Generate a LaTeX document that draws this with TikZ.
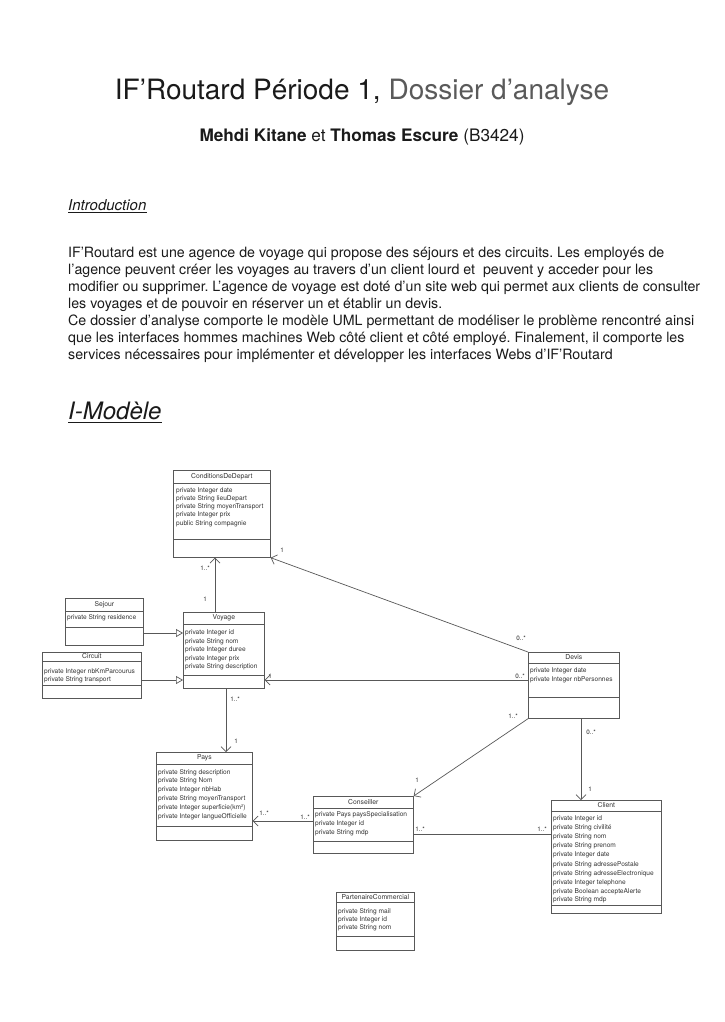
\documentclass[tikz,border=0pt]{standalone}
\usepackage{fontspec}
\setmainfont{TeX Gyre Heros}
\usetikzlibrary{arrows.meta,calc}

\definecolor{txt}{HTML}{1A1A1A}
\definecolor{umltext}{HTML}{333333}
\definecolor{umlline}{HTML}{585858}

\tikzset{
  cls/.style={draw=umlline, line width=0.7pt, fill=white, inner sep=0pt, anchor=north west},
  ctitle/.style={font=\fontsize{6.8}{7}\selectfont, text=umltext, inner sep=0pt, anchor=center},
  cattr/.style={font=\fontsize{6.6}{#1}\selectfont, text=umltext, inner sep=0pt, anchor=north west, align=left},
  cattr/.default=8.4,
  csep/.style={draw=umlline, line width=0.7pt},
  assoc/.style={draw=umlline, line width=0.7pt, -{Straight Barb[length=5pt,width=10pt]}},
  plainassoc/.style={draw=umlline, line width=0.7pt},
  inherit/.style={draw=umlline, line width=0.7pt, -{Triangle[open,length=7pt,width=8pt,fill=white]}},
  mult/.style={font=\fontsize{6.3}{7}\selectfont, text=umltext, inner sep=0pt},
  para/.style={font=\fontsize{14.2}{17}\selectfont\frenchspacing, text=txt, inner sep=0pt, anchor=base west},
}

% #1 name, #2 left, #3 top, #4 right, #5 bottom, #6 first separator, #7 second separator, #8 class name
\newcommand{\umlclass}[8]{%
  \node[cls, minimum width={(#4-#2)*1pt}, minimum height={(#5-#3)*1pt}] (#1) at (#2,#3) {};
  \draw[csep] (#1.west |- 0,#6) -- (#1.east |- 0,#6);
  \draw[csep] (#1.west |- 0,#7) -- (#1.east |- 0,#7);
  \node[ctitle] (#1-title) at ($(#1.north)!0.5!(#1.north |- 0,#6)$) {#8};
}

\begin{document}
\begin{tikzpicture}[x=1pt,y=-1pt]
\useasboundingbox[fill=white] (0,0) rectangle (724,1022);

% Heading
\node[anchor=base, inner sep=0pt, font=\fontsize{28}{30}\selectfont, text=txt] (title) at (362,100)
  {IF’Routard Période 1, {\color{txt!72}Dossier d’analyse}};
\node[anchor=base, inner sep=0pt, font=\fontsize{17.2}{19}\selectfont, text=txt] (authors) at (362,142)
  {\textbf{Mehdi Kitane} et \textbf{Thomas Escure} (B3424)};

% Introduction
\node[anchor=base west, inner sep=0pt, font=\fontsize{15}{17}\selectfont\itshape, text=txt] (intro) at (68,210) {Introduction};
\draw[txt, line width=0.7pt] ($(intro.base west)+(0,2.2)$) -- ($(intro.base east)+(0,2.2)$);

\node[para] (p1) at (68,257) {IF'Routard est une agence de voyage qui propose des séjours et des circuits. Les employés de};
\node[para] (p2) at (68,274) {l'agence peuvent créer les voyages au travers d'un client lourd et\ \ peuvent y acceder pour les};
\node[para] (p3) at (68,291) {modifier ou supprimer. L'agence de voyage est doté d'un site web qui permet aux clients de consulter};
\node[para] (p4) at (68,308) {les voyages et de pouvoir en réserver un et établir un devis.};
\node[para] (p5) at (68,325) {Ce dossier d'analyse comporte le modèle UML permettant de modéliser le problème rencontré ainsi};
\node[para] (p6) at (68,342) {que les interfaces hommes machines Web côté client et côté employé. Finalement, il comporte les};
\node[para] (p7) at (68,359) {services nécessaires pour implémenter et développer les interfaces Webs d'IF'Routard};

% Section heading
\node[anchor=base west, inner sep=0pt, font=\fontsize{24}{26}\selectfont\itshape, text=txt] (modele) at (68,419) {I-Modèle};
\draw[txt, line width=1pt] ($(modele.base west)+(0,3.5)$) -- ($(modele.base east)+(0,3.5)$);

% Classes
\umlclass{cond}{173}{470}{270}{557}{483}{539}{ConditionsDeDepart}
\node[cattr=8.3] (cond-attr) at (176,487) {private Integer date\\private String lieuDepart\\private String moyenTransport\\private Integer prix\\public String compagnie};

\umlclass{sejour}{65}{598}{143}{645}{611}{627}{Sejour}
\node[cattr] (sejour-attr) at (67,614.5) {private String residence};

\umlclass{voyage}{183}{612}{264}{688}{624}{675}{Voyage}
\node[cattr=8.6] (voyage-attr) at (185,629.5) {private Integer id\\private String nom\\private Integer duree\\private Integer prix\\private String description};

\umlclass{circuit}{42}{652}{141}{698}{661}{685}{Circuit}
\node[cattr=8.4] (circuit-attr) at (44,668.5) {private Integer nbKmParcourus\\private String transport};

\umlclass{devis}{528}{652}{619}{718}{663}{697}{Devis}
\node[cattr=9] (devis-attr) at (530,667.5) {private Integer date\\private Integer nbPersonnes};

\umlclass{pays}{156}{752}{252}{840}{764}{826}{Pays}
\node[cattr=8.8] (pays-attr) at (158,769) {private String description\\private String Nom\\private Integer nbHab\\private String moyenTransport\\private Integer superficie(km²)\\private Integer langueOfficielle};

\umlclass{conseiller}{313}{796}{413}{853}{808}{841}{Conseiller}
\node[cattr=9] (conseiller-attr) at (315,811.5) {private Pays paysSpecialisation\\private Integer id\\private String mdp};

\umlclass{client}{551}{800}{661}{913}{811}{905}{Client}
\node[cattr=9.1] (client-attr) at (553,815.5) {private Integer id\\private String civilité\\private String nom\\private String prenom\\private Integer date\\private String adressePostale\\private String adresseElectronique\\private Integer telephone\\private Boolean accepteAlerte};
\node[cattr] (client-mdp) at (553,896.5) {private String mdp};

\umlclass{partenaire}{336}{892}{414}{950}{902}{936}{PartenaireCommercial}
\node[cattr=8] (partenaire-attr) at (338,908.5) {private String mail\\private Integer id\\private String nom};

% Generalisations
\draw[inherit] (sejour.east |- 0,633) -- (voyage.west |- 0,633);
\draw[inherit] (circuit.east |- 0,680) -- (voyage.west |- 0,680);

% Associations
\draw[assoc] (215,0 |- voyage.north) -- (215,0 |- cond.south);
\draw[assoc] (devis.north west) -- (cond.south east);
\draw[assoc] (devis.west |- 0,680) -- (voyage.east |- 0,680);
\draw[assoc] (226,0 |- voyage.south) -- (226,0 |- pays.north);
\draw[assoc] (devis.south west) -- (conseiller.north east);
\draw[assoc] (581,0 |- devis.south) -- (581,0 |- client.north);
\draw[assoc] (conseiller.west |- 0,821) -- (pays.east |- 0,821);
\draw[plainassoc] (conseiller.east |- 0,834) -- (client.west |- 0,834);

% Multiplicities
\node[mult] (m1) at (205,568) {1..*};
\node[mult] (m2) at (205,599) {1};
\node[mult] (m3) at (282,550) {1};
\node[mult] (m4) at (521,638) {0..*};
\node[mult] (m5) at (270,676) {1};
\node[mult] (m6) at (520,676) {0..*};
\node[mult] (m7) at (235,699) {1..*};
\node[mult] (m8) at (236,741) {1};
\node[mult] (m9) at (513,716) {1..*};
\node[mult] (m10) at (417,780) {1};
\node[mult] (m11) at (591,732) {0..*};
\node[mult] (m12) at (590,789) {1};
\node[mult] (m13) at (264,813) {1..*};
\node[mult] (m14) at (305,817) {1..*};
\node[mult] (m15) at (420,829) {1..*};
\node[mult] (m16) at (542,829) {1..*};

\end{tikzpicture}
\end{document}
